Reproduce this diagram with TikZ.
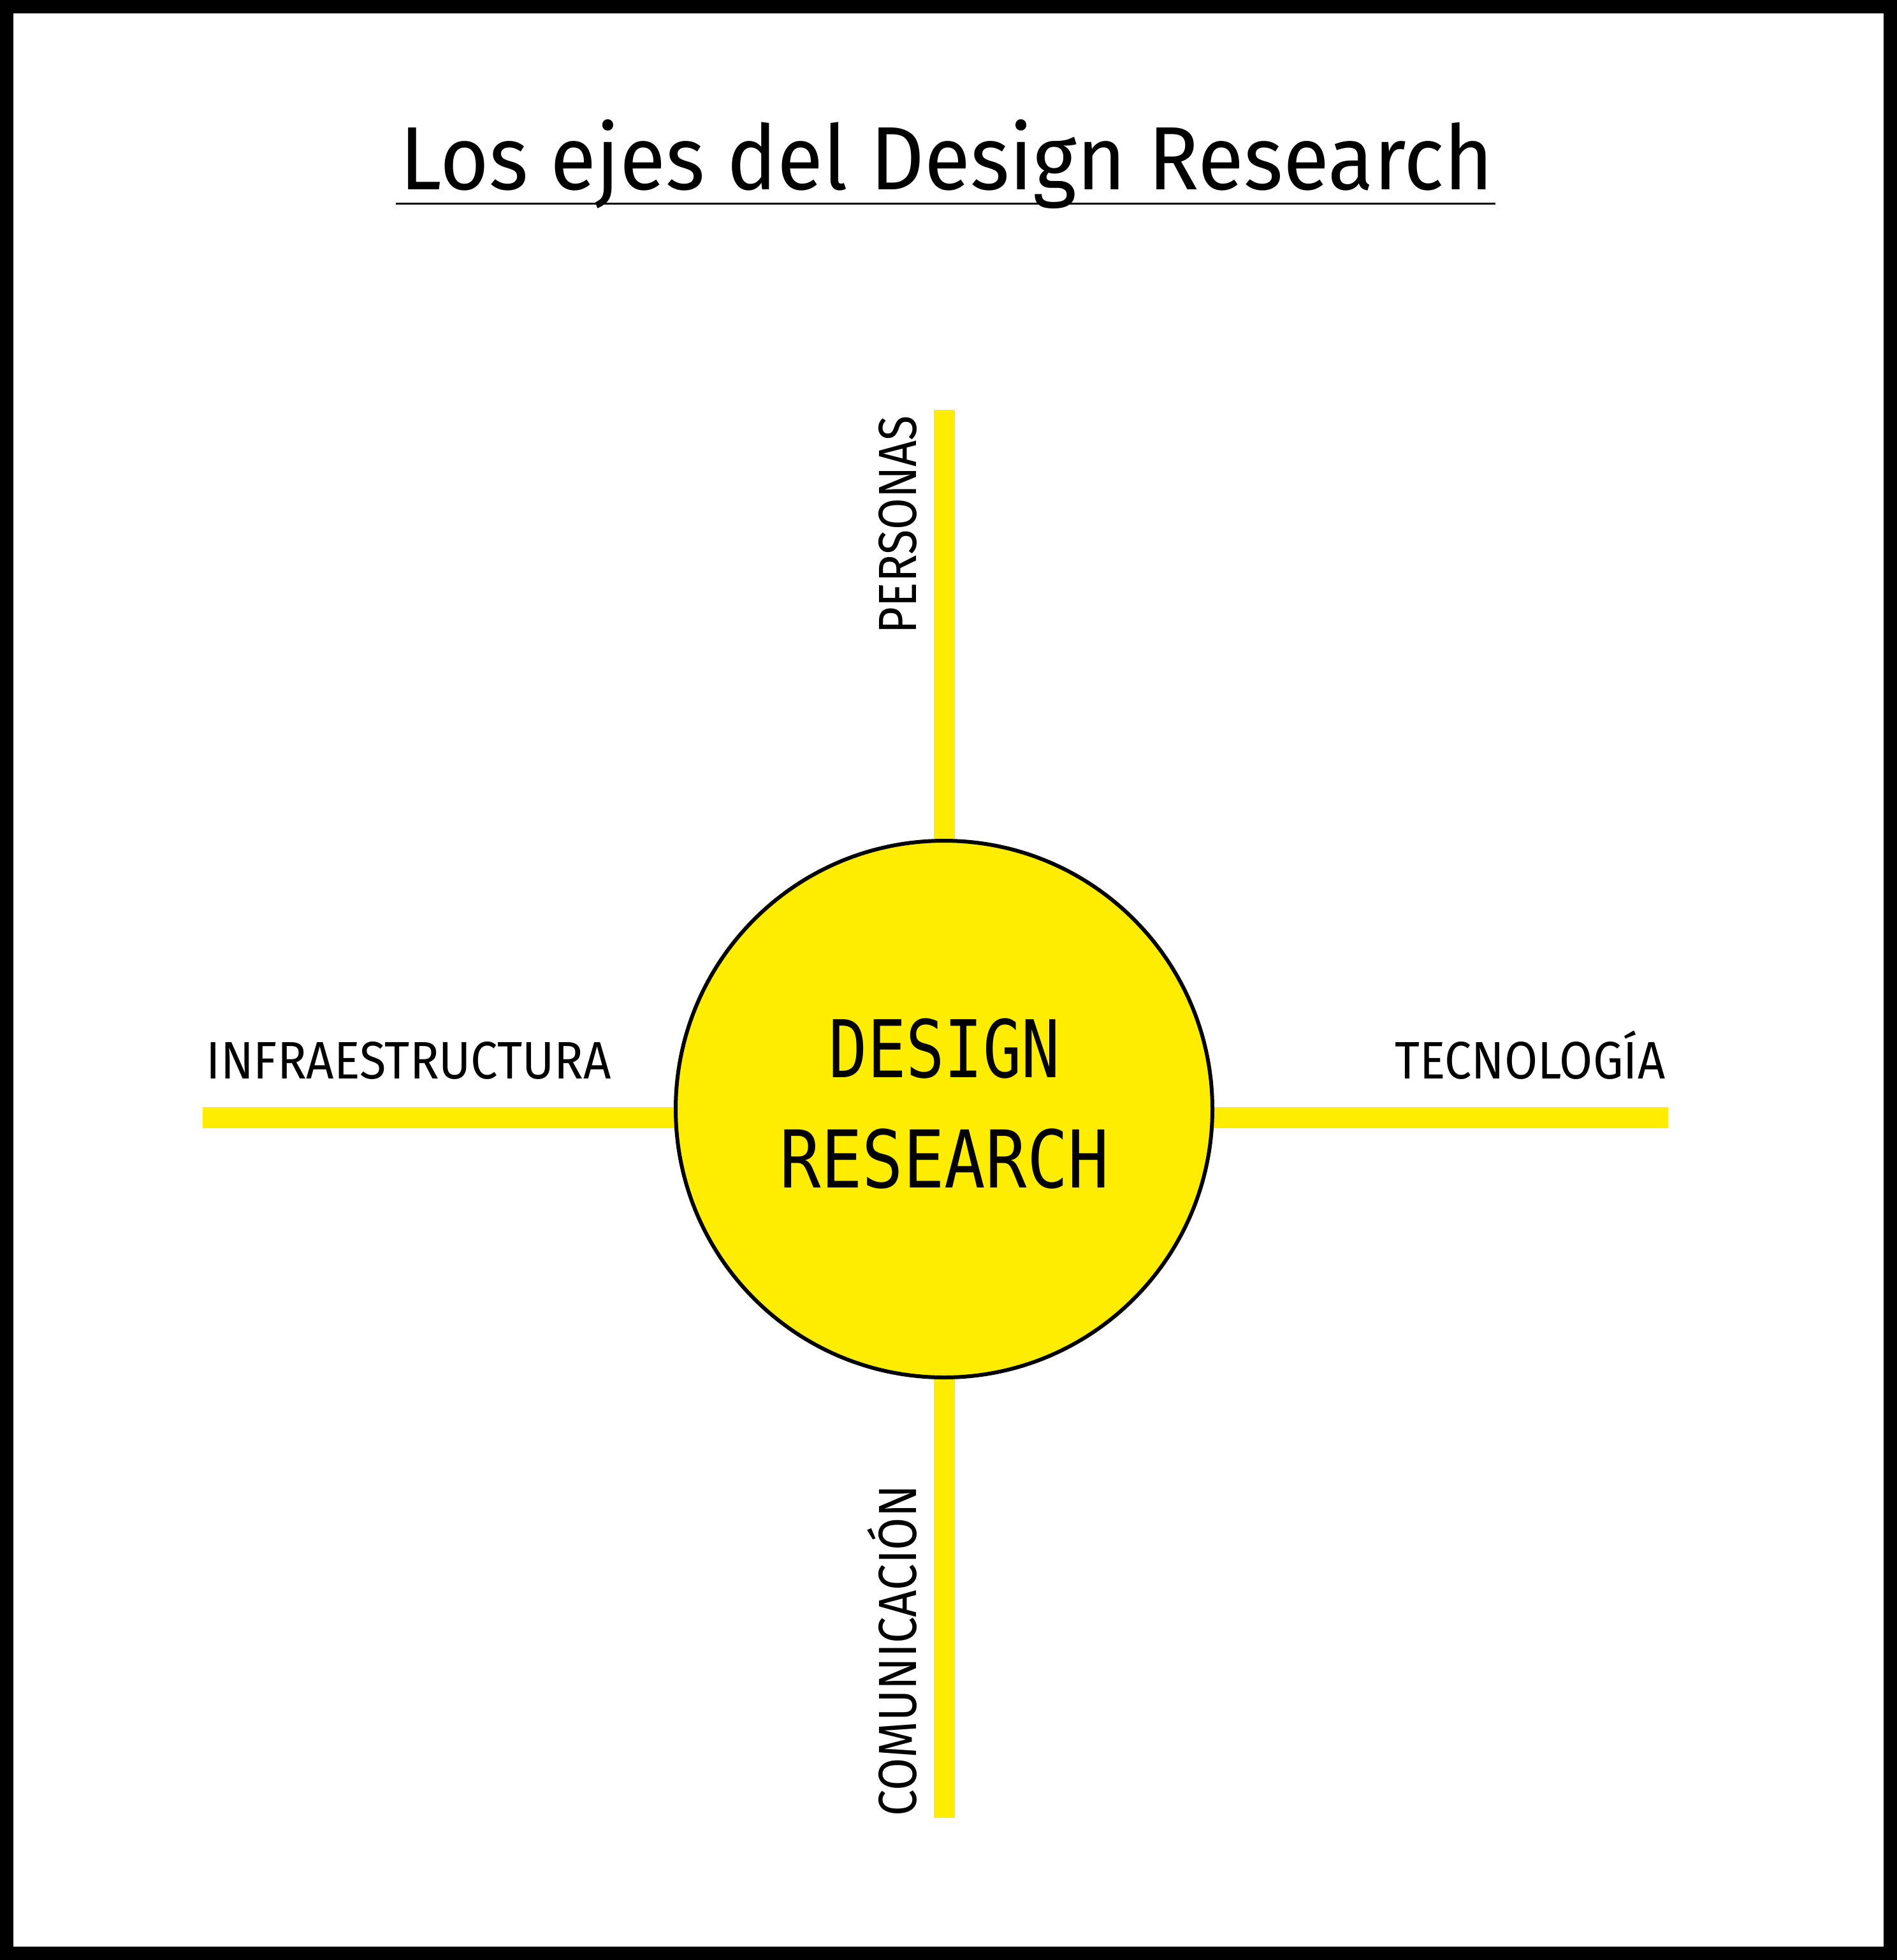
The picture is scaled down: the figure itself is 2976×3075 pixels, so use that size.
\documentclass[tikz,border=0pt]{standalone}
\usepackage{fontspec}
\usepackage{graphicx}
\usepackage{tikz}
\usetikzlibrary{calc,positioning,backgrounds}
\newfontfamily\drthin{Fira Sans}
\newfontfamily\drmono{DejaVu Sans Mono}
\definecolor{drsun}{HTML}{FFED00}
\newdimen\pxu \pxu=0.01cm
% squeeze a line of text to a given width and cap height
\newcommand{\capfit}[3]{\resizebox{#1}{#2}{\raisebox{0pt}[\fontcharht\font`H][0pt]{#3}}}

\begin{document}
\begin{tikzpicture}[x=0.01cm,y=-0.01cm,
    axisbar/.style={draw=drsun,line width=33\pxu},
    core/.style={circle,draw=black,fill=drsun,line width=6\pxu,minimum size=842\pxu,inner sep=0pt},
    lbl/.style={inner sep=0pt,font=\drthin\fontsize{23}{26}\selectfont},
    corelbl/.style={inner sep=0pt,anchor=base,font=\drmono\fontsize{35}{40}\selectfont}]
    \useasboundingbox (0,0) rectangle (2976,3075);
    \draw[line width=21\pxu] (10.5,10.5) rectangle (2965.5,3064.5);

    % title
    \node[lbl,anchor=base west,font=\drthin\fontsize{40}{44}\selectfont] (title) at (627,297)
      {\capfit{17.14cm}{0.97cm}{Los ejes del Design Research}};
    \draw[line width=3\pxu] ($(title.base west)+(-6,22)$) -- ($(title.base east)+(3,22)$);

    % centre
    \node[core] (core) at (1481,1740) {};
    \node[corelbl] (design) at (1482,1690) {\capfit{3.62cm}{0.91cm}{DESIGN}};
    \node[corelbl] (research) at (1482,1863) {\capfit{5.16cm}{0.91cm}{RESEARCH}};

    % axis labels
    \node[lbl,anchor=base west] (infra) at (323,1692) {\capfit{6.35cm}{0.57cm}{INFRAESTRUCTURA}};
    \node[lbl,anchor=base east] (tecno) at (2613,1692) {\capfit{4.24cm}{0.57cm}{TECNOLOGÍA}};
    \node[lbl,anchor=base west,rotate=90] (pers) at (1437,995) {\capfit{3.42cm}{0.58cm}{PERSONAS}};
    \node[lbl,anchor=base west,rotate=90] (comu) at (1437,2850) {\capfit{5.19cm}{0.58cm}{COMUNICACIÓN}};

    \coordinate (infEnd) at (318,1753);
    \coordinate (tecEnd) at (2617,1753);
    \coordinate (persEnd) at (1484,643);
    \coordinate (comuEnd) at (1482,2852);

    \begin{scope}[on background layer]
      \draw[axisbar] (infEnd) -- (infEnd -| core.center);
      \draw[axisbar] (tecEnd) -- (tecEnd -| core.center);
      \draw[axisbar] (core.center) -- (core.center |- persEnd);
      \draw[axisbar] (core.center) -- (core.center |- comuEnd);
    \end{scope}
\end{tikzpicture}
\end{document}
